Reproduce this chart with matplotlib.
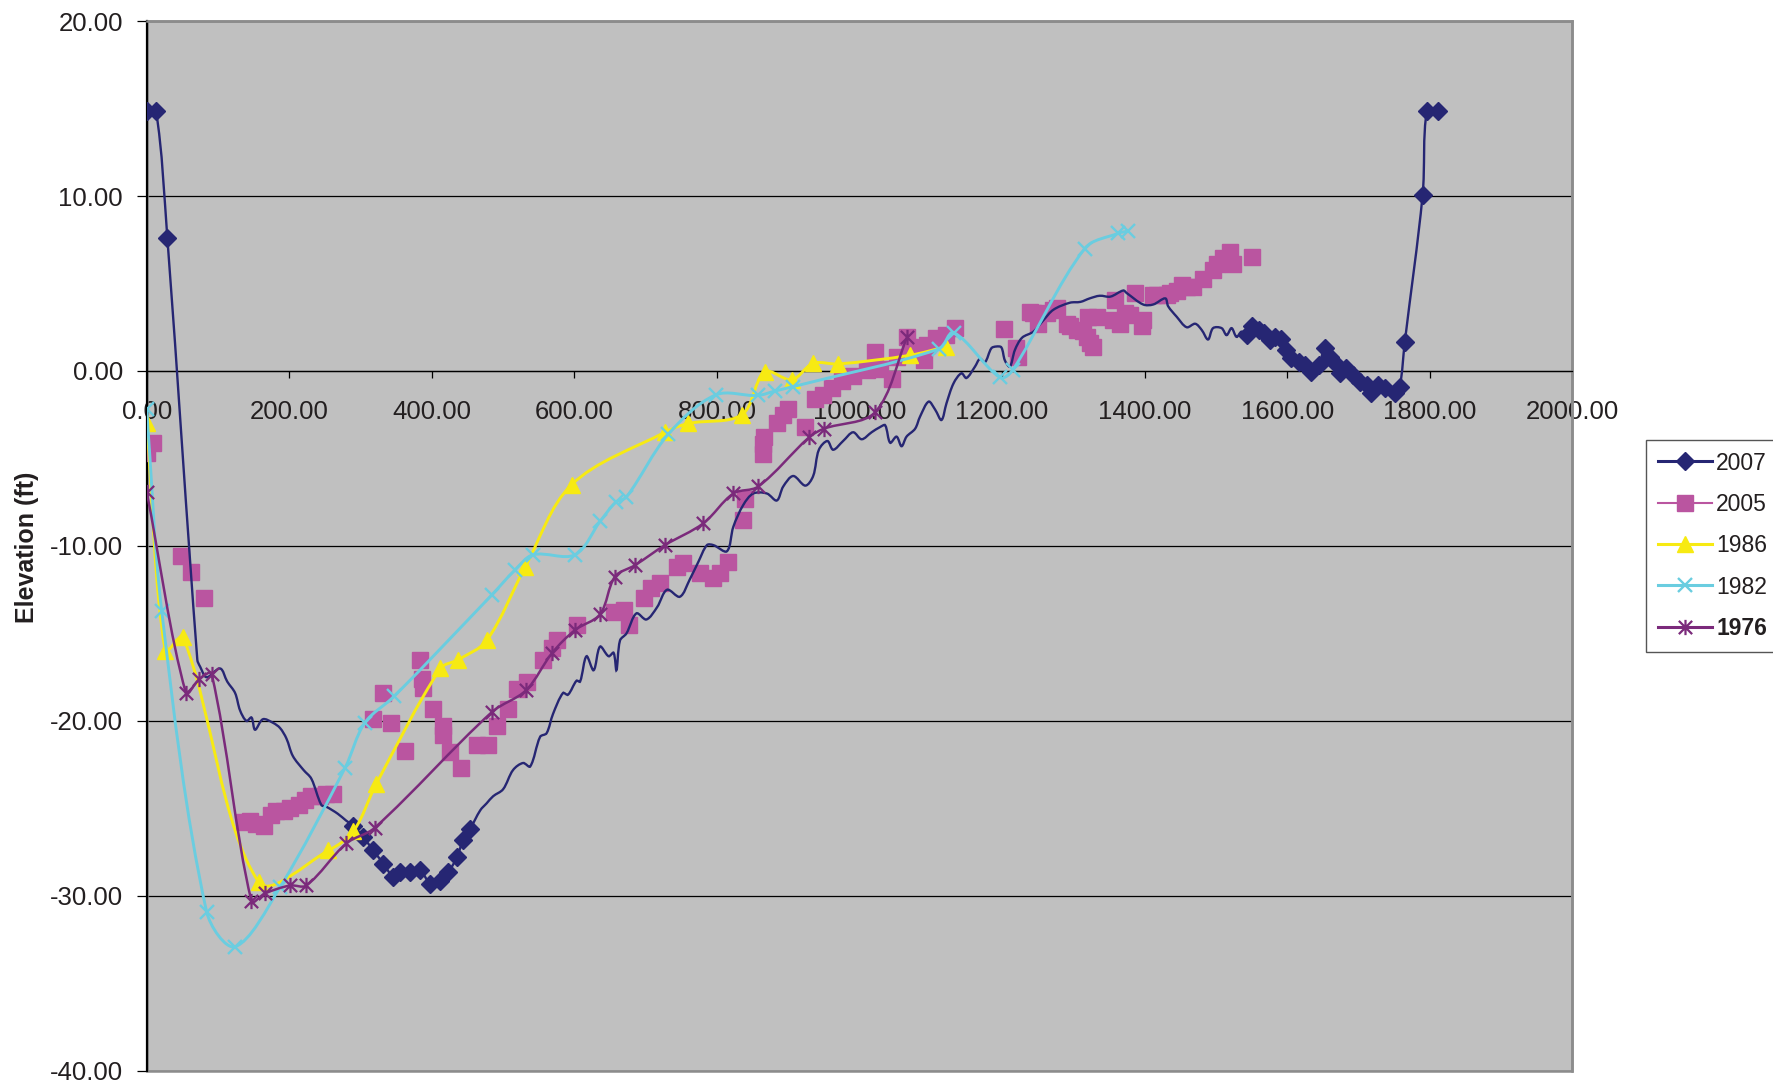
import numpy as np
import matplotlib
matplotlib.use('Agg')
import matplotlib.pyplot as plt
from matplotlib.path import Path
from matplotlib.patches import PathPatch, Rectangle
from matplotlib.lines import Line2D
from matplotlib.ticker import FuncFormatter, MultipleLocator

plt.rcParams['font.family'] = ['Liberation Sans', 'DejaVu Sans']

# ---------------- data ----------------
x2007 = [0, 13, 29, 71, 75, 84, 103, 113, 124, 131, 140, 147, 152, 163, 177, 187, 196, 205, 220, 231,
         245, 252, 268, 280,
         290, 304, 318, 332, 346, 355, 369, 383, 398, 411, 423, 435, 444, 454,
         468, 477, 486, 500, 514, 528, 538, 552, 561, 570, 584, 591, 603, 608, 617, 627, 636, 648, 655,
         659, 664, 673, 687, 701, 716, 730, 748, 762, 774, 786, 795, 814, 823, 837, 851, 870, 884, 893,
         907, 924, 935, 943, 955, 963, 977, 991, 1003, 1017, 1029, 1036, 1043, 1052, 1059, 1066, 1078,
         1085, 1097, 1106, 1115, 1122, 1132, 1143, 1150, 1162, 1169, 1176, 1185, 1192, 1199, 1204, 1211,
         1218, 1228, 1244, 1258, 1272, 1295, 1310, 1323, 1337, 1352, 1370, 1375, 1398, 1412, 1429, 1433,
         1445, 1459, 1471, 1480, 1489, 1496, 1508, 1515, 1522, 1529, 1536,
         1543, 1550, 1560, 1567, 1576, 1583, 1592, 1599, 1606, 1616, 1625, 1634, 1644, 1653, 1660, 1667,
         1674, 1683, 1693, 1702, 1712, 1718, 1728, 1737, 1751, 1758, 1765, 1790, 1796, 1811]
y2007 = [14.87, 14.87, 7.58, -16.5, -16.9, -17.5, -17.0, -17.75, -18.4, -19.4, -20.0, -19.8, -20.5, -19.9,
         -20.1, -20.4, -21.0, -22.0, -22.8, -23.3,
         -24.8, -24.9, -25.3, -25.7,
         -26.0, -26.65, -27.4, -28.15, -28.9, -28.65, -28.65, -28.5, -29.3, -29.15, -28.65, -27.8, -26.8, -26.15,
         -25.1, -24.7, -24.3, -23.9, -22.8, -22.4, -22.6, -20.9, -20.7, -19.6, -18.4, -18.5, -17.7, -17.75,
         -16.3, -17.1, -15.75, -16.3, -16.1,
         -17.1, -15.4, -15.0, -13.85, -14.2, -13.5, -12.5, -12.9, -11.9, -10.9, -9.95, -9.95, -10.3, -8.9,
         -7.65, -7.0, -7.0, -7.4, -6.6,
         -6.0, -6.55, -6.0, -4.5, -4.0, -4.5, -4.0, -3.5, -3.9, -3.5, -3.2, -3.1, -4.1, -3.75, -4.3, -3.75, -3.3,
         -2.6, -1.75, -2.2, -2.8, -1.85, -0.7, -0.13, -0.4, 0.25, 0.7, 0.5, 1.3, 1.4, 1.35, 0.6, 0.25,
         1.2, 1.9, 2.25, 2.9, 3.5, 3.9, 3.95, 4.15, 4.3, 4.25, 4.6, 4.45, 3.8, 3.8, 4.15, 3.7,
         3.1, 2.5, 2.7, 2.35, 1.8, 2.45, 2.45, 2.05, 2.45, 1.95, 2.25,
         2.05, 2.55, 2.35, 2.15, 1.8, 1.95, 1.85, 1.2, 0.73, 0.53, 0.34, -0.04, 0.34, 1.3, 0.82, 0.44,
         -0.13, 0.15, -0.23, -0.61, -0.8, -1.27, -0.8, -1.0, -1.27, -0.9, 1.65, 10.06, 14.86, 14.86]

x2005 = [0, 9, 48, 62, 80,
         136, 145, 154, 164, 175, 182, 192, 201, 213, 222, 231, 243, 252, 262,
         317, 332, 343, 362, 383, 386, 388, 402, 416, 416, 426, 441, 463, 479, 491, 507, 519, 533, 556,
         568, 575, 603, 655, 669, 676, 697, 707, 720, 744, 753, 776, 795, 804, 816, 837, 839, 865, 865,
         866, 884, 893, 900, 924, 937, 949, 961, 975, 991, 1010, 1022, 1029, 1045, 1052, 1066, 1071, 1090,
         1094, 1108, 1122, 1134, 1203, 1219, 1223, 1239, 1244, 1251, 1263, 1272, 1277, 1291, 1296, 1305,
         1314, 1319, 1320, 1324, 1328, 1333, 1356, 1358, 1365, 1373, 1379, 1387, 1396, 1398, 1412, 1417,
         1431, 1436, 1445, 1452, 1459, 1468, 1482, 1496, 1501, 1510, 1520, 1524, 1551]
y2005 = [-4.66, -4.13, -10.6, -11.5, -13.0,
         -25.8, -25.7, -25.9, -26.0, -25.4, -25.15, -25.15, -25.0, -24.8, -24.5, -24.3, -24.3, -24.15, -24.15,
         -19.9, -18.4, -20.1, -21.7, -16.5, -17.6, -18.1, -19.3, -20.3, -20.8, -21.8, -22.7, -21.4, -21.4,
         -20.3, -19.3, -18.2, -17.8, -16.5,
         -15.85, -15.35, -14.5, -13.75, -13.65, -14.5, -13.0, -12.4, -12.1, -11.2, -11.0, -11.55, -11.85,
         -11.55, -10.9, -8.5, -7.3, -4.75, -4.2,
         -3.75, -3.0, -2.5, -2.15, -3.2, -1.6, -1.4, -1.0, -0.6, -0.3, 0.06, 1.1, 0.1, -0.45, 0.8, 1.95,
         1.4, 0.63,
         1.5, 1.87, 2.06, 2.44, 2.4, 1.3, 0.82, 3.4, 3.3, 2.7, 3.3, 3.5, 3.6, 2.7, 2.6, 2.34,
         2.3, 1.96, 3.1, 1.6, 1.35, 3.1, 2.9, 4.06, 2.7, 3.3, 3.2, 4.44, 2.6, 2.9, 4.34, 4.34,
         4.34, 4.44, 4.6, 4.9, 4.8, 4.8, 5.25, 5.77, 6.1, 6.44, 6.8, 6.1, 6.53]

x1986 = [0, 26, 51, 157, 255, 290, 322, 412, 437, 477, 531, 596, 727, 760, 835, 867, 905, 935, 970,
         1071, 1122]
y1986 = [-3.0, -16.0, -15.2, -29.2, -27.4, -26.3, -23.6, -17.0, -16.5, -15.4, -11.2, -6.5, -3.5, -3.0,
         -2.5, -0.05, -0.5, 0.44, 0.4, 0.9, 1.4]

x1982 = [0, 21, 84, 124, 187, 278, 306, 347, 484, 516, 542, 601, 636, 658, 673, 732, 798, 857, 881, 906,
         1111, 1132, 1197, 1215, 1316, 1363, 1377]
y1982 = [-2.2, -13.7, -30.9, -32.9, -29.5, -22.7, -20.1, -18.6, -12.8, -11.4, -10.5, -10.5, -8.6, -7.5,
         -7.2, -3.6, -1.37, -1.4, -1.15, -0.9, 1.25, 2.2, -0.37, 0.06, 7.0, 7.87, 8.0]

x1976 = [0, 55, 74, 91, 147, 166, 201, 224, 280, 320, 484, 532, 569, 601, 636, 657, 685, 727, 781, 823,
         858, 929, 950, 1022, 1067]
y1976 = [-6.9, -18.4, -17.6, -17.3, -30.3, -29.85, -29.4, -29.4, -27.0, -26.1, -19.5, -18.25, -16.1,
         -14.8, -13.9, -11.75, -11.1, -9.95, -8.7, -7.0, -6.6, -3.8, -3.3, -2.35, 1.96]

labels = ['2007', '2005', '1986', '1982', '1976']
x_ticks_step = 200
y_ticks_step = 10

# ---------------- style ----------------
C2007 = '#262673'
C2005 = '#BA55A0'
C1986 = '#F7EA12'
C1982 = '#6ACDE0'
C1976 = '#7B2A7B'
TXT = '#231F20'

star = Path([(-1, -1), (1, 1), (-1, 1), (1, -1), (0, -1.15), (0, 1.15)],
            [Path.MOVETO, Path.LINETO, Path.MOVETO, Path.LINETO, Path.MOVETO, Path.LINETO])


def smooth_path(ax, x, y, t=1.0 / 3.0):
    """Excel-like smoothed line: cubic Bezier through the data points, tangents
    weighted by neighbouring chord lengths measured on screen."""
    P = ax.transData.transform(np.column_stack([x, y]).astype(float))
    n = len(P)
    verts = [P[0]]
    codes = [Path.MOVETO]
    for i in range(n - 1):
        p0 = P[i - 1] if i > 0 else P[i]
        p1 = P[i]
        p2 = P[i + 1]
        p3 = P[i + 2] if i + 2 < n else P[i + 1]
        d01 = np.hypot(*(p1 - p0))
        d12 = np.hypot(*(p2 - p1))
        d23 = np.hypot(*(p3 - p2))
        f1 = t * d12 / (d01 + d12) if (d01 + d12) > 0 else 0
        f2 = t * d12 / (d12 + d23) if (d12 + d23) > 0 else 0
        c1 = p1 + f1 * (p2 - p0)
        c2 = p2 - f2 * (p3 - p1)
        verts += [c1, c2, p2]
        codes += [Path.CURVE4] * 3
    verts = ax.transData.inverted().transform(np.array(verts))
    return Path(verts, codes)


fig = plt.figure(figsize=(17.74, 10.83), dpi=100)
ax = fig.add_axes([0.0827, 0.0111, 0.8036, 0.9695])
ax.set_xlim(0, 2000)
ax.set_ylim(-40, 20)
ax.set_facecolor('#C0C0C0')

ax.xaxis.set_major_locator(MultipleLocator(x_ticks_step))
ax.yaxis.set_major_locator(MultipleLocator(y_ticks_step))
fmt = FuncFormatter(lambda v, p: f"{v:.2f}")
ax.xaxis.set_major_formatter(fmt)
ax.yaxis.set_major_formatter(fmt)
ax.grid(axis='y', color='black', lw=0.9)
ax.grid(axis='x', visible=False)
ax.set_axisbelow(True)

ax.spines['bottom'].set_position(('data', 0))
ax.spines['bottom'].set_color('black')
ax.spines['bottom'].set_linewidth(0.9)
ax.spines['left'].set_color('black')
ax.spines['left'].set_linewidth(1.6)
for s in ('top', 'right'):
    ax.spines[s].set_color('#8C8C8C')
    ax.spines[s].set_linewidth(1.8)
ax.add_patch(Rectangle((0, 0), 1, 1, transform=ax.transAxes, fill=False,
                       edgecolor='#8C8C8C', lw=1.8, zorder=1, clip_on=False))

ax.tick_params(axis='x', direction='out', length=5, width=0.9, pad=16,
               labelsize=18.5, labelcolor=TXT, color='black')
ax.tick_params(axis='y', direction='out', length=7, width=0.9, pad=10,
               labelsize=18.5, labelcolor=TXT, color='black')

MS_D, MS_S, MS_T, MS_X, MS_ST = 9.2, 11.5, 11, 10, 11

# 2005: markers only
ax.plot(x2005, y2005, linestyle='none', marker='s', ms=MS_S, mfc=C2005, mec=C2005, zorder=3)

# 2007
x7 = np.array(x2007)
mask7 = (x7 < 35) | ((x7 > 284) & (x7 < 460)) | (x7 > 1540)
ax.add_patch(PathPatch(smooth_path(ax, x2007, y2007), fill=False, edgecolor=C2007, lw=1.7, zorder=3.1))
ax.plot(x7[mask7], np.array(y2007)[mask7], linestyle='none', marker='D', ms=MS_D,
        mfc=C2007, mec=C2007, zorder=3.15)

# 1986
ax.add_patch(PathPatch(smooth_path(ax, x1986, y1986), fill=False, edgecolor=C1986, lw=2.1, zorder=3.2))
ax.plot(x1986, y1986, linestyle='none', marker='^', ms=MS_T, mfc=C1986, mec=C1986, zorder=3.25)

# 1982
ax.add_patch(PathPatch(smooth_path(ax, x1982, y1982), fill=False, edgecolor=C1982, lw=2.1, zorder=3.3))
ax.plot(x1982, y1982, linestyle='none', marker='x', ms=MS_X, mew=1.7, mec=C1982, zorder=3.35)

# 1976
ax.add_patch(PathPatch(smooth_path(ax, x1976, y1976), fill=False, edgecolor=C1976, lw=1.8, zorder=3.4))
ax.plot(x1976, y1976, linestyle='none', marker=star, ms=MS_ST, mew=1.6, mfc='none', mec=C1976, zorder=3.45)

fig.text(27.5 / 1774, 1 - 547 / 1083, 'Elevation (ft)', rotation=90, ha='center', va='center',
         fontsize=18, fontweight='bold', color=TXT)

handles = [
    Line2D([], [], color=C2007, lw=2.2, marker='D', ms=MS_D, mfc=C2007, mec=C2007),
    Line2D([], [], color=C2005, lw=1.5, marker='s', ms=MS_S, mfc=C2005, mec=C2005),
    Line2D([], [], color=C1986, lw=2.2, marker='^', ms=MS_T, mfc=C1986, mec=C1986),
    Line2D([], [], color=C1982, lw=2.2, marker='x', ms=MS_X, mew=1.7, mec=C1982),
    Line2D([], [], color=C1976, lw=2.2, marker=star, ms=MS_ST, mew=1.6, mfc='none', mec=C1976),
]
leg = fig.legend(handles, labels, loc='upper left', bbox_to_anchor=(1646 / 1774, 1 - 439.6 / 1083),
                 borderaxespad=0, fontsize=16.5, frameon=True, fancybox=False, framealpha=1,
                 edgecolor='#555555', handlelength=2.35, handletextpad=0.2, borderpad=0.52,
                 labelspacing=0.8, numpoints=1)
leg.get_frame().set_linewidth(1.0)
for t in leg.get_texts():
    t.set_color(TXT)
leg.get_texts()[4].set_fontweight('bold')

fig.savefig('out.png', dpi=100, facecolor='white')
